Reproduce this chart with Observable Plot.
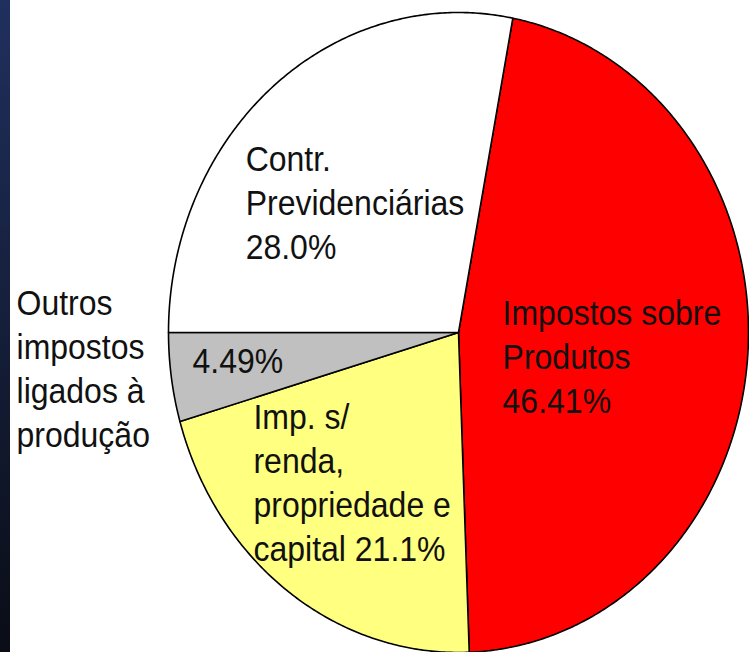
<!DOCTYPE html>
<html>
<head>
<meta charset="utf-8">
<script src="https://cdn.jsdelivr.net/npm/d3@7"></script>
<script src="https://cdn.jsdelivr.net/npm/@observablehq/plot@0.6"></script>
<style>
html, body { margin: 0; padding: 0; background: #fff; }
#wrap { position: relative; width: 749px; height: 652px; overflow: hidden; background: #fff; }
#strip { position: absolute; left: 0; top: 0; width: 10px; height: 652px; background: linear-gradient(#20305e, #0a0d16); z-index: 2; }
#wrap svg { position: absolute; left: 0; top: 0; }
</style>
</head>
<body>
<div id="wrap"><div id="strip"></div></div>
<script>
// Data
const categories = ["Impostos sobre Produtos", "Imp. s/ renda, propriedade e capital", "Outros impostos ligados à produção", "Contr. Previdenciárias"];
const values = [46.41, 21.1, 4.49, 28.0];
const valueLabels = ["46.41%", "21.1%", "4.49%", "28.0%"];
const sliceColors = ["#ff0000", "#ffff80", "#c0c0c0", "#ffffff"];

// Label texts
const labelTexts = [
  "Impostos sobre\nProdutos\n" + valueLabels[0],
  "Imp. s/\nrenda,\npropriedade e\ncapital " + valueLabels[1],
  valueLabels[2],
  "Contr.\nPrevidenciárias\n" + valueLabels[3],
  "Outros\nimpostos\nligados à\nprodução"
];
// label anchor (last-line baseline, left) in pie units
const labelPos = [[0.152, -0.253], [-0.707, -0.7125], [-0.917, -0.125], [-0.734, 0.231], [-1.524, -0.359]];

// Geometry of slices (clockwise from top, gray slice ends at 9 o'clock)
const total = d3.sum(values);
let a0 = 1.5 * Math.PI - 2 * Math.PI * (values[0] + values[1] + values[2]) / total;
const slices = values.map((v, i) => {
  const a1 = a0 + 2 * Math.PI * v / total;
  const n = Math.max(2, Math.ceil((a1 - a0) / (Math.PI / 360)));
  const pts = [[0, 0]];
  for (let k = 0; k <= n; ++k) {
    const a = a0 + (a1 - a0) * k / n;
    pts.push([Math.sin(a), Math.cos(a)]);
  }
  pts.push([0, 0]);
  a0 = a1;
  return pts;
});

const chart = Plot.plot({
  width: 749,
  height: 652,
  x: { domain: [-1, 1], range: [168, 748], axis: null },
  y: { domain: [-1, 1], range: [652, 12], axis: null },
  style: { background: "transparent", overflow: "visible" },
  marks: [
    ...slices.map((pts, i) => Plot.line(pts, {
      x: d => d[0], y: d => d[1],
      fill: sliceColors[i], stroke: "#000", strokeWidth: 1.6, strokeLinejoin: "round"
    })),
    Plot.text(d3.range(labelTexts.length), {
      x: i => labelPos[i][0], y: i => labelPos[i][1],
      text: i => labelTexts[i],
      textAnchor: "start", lineAnchor: "bottom", lineHeight: 1.25,
      fontSize: 32, fontFamily: "Liberation Sans, Arial, sans-serif", fill: "#111"
    })
  ]
});
document.getElementById("wrap").appendChild(chart);
chart.querySelectorAll('g[aria-label="text"] text').forEach(t => {
  t.setAttribute("transform", (t.getAttribute("transform") || "") + " scale(1,1.1)");
});
</script>
</body>
</html>
